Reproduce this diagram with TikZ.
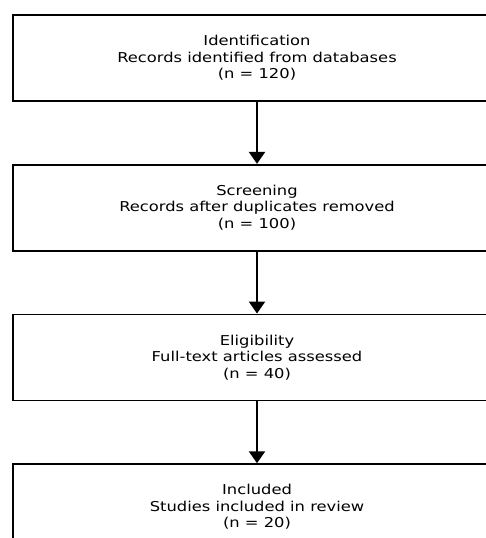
\documentclass[tikz,border=0pt]{standalone}
\usepackage{fontspec}
\setmainfont[FakeStretch=1.2]{DejaVu Sans}
\usetikzlibrary{positioning,arrows.meta}
\tikzset{
  stagebox/.style={draw,line width=1.7pt,minimum width=488pt,minimum height=86pt,
    align=center,font=\fontsize{13.6}{16.6}\selectfont,inner sep=0pt},
  flowarrow/.style={line width=2.4pt,-{Triangle[width=16pt,length=12pt]}}
}
\begin{document}
\begin{tikzpicture}[x=1pt,y=1pt]
\clip (0,0) rectangle (486,-538);
\useasboundingbox (0,0) rectangle (486,-538);
\node[stagebox] (ident) at (257,-58) {Identification\\Records identified from databases\\(n = 120)};
\node[stagebox,below=62pt of ident] (screen) {Screening\\Records after duplicates removed\\(n = 100)};
\node[stagebox,below=62pt of screen] (elig) {Eligibility\\Full-text articles assessed\\(n = 40)};
\node[stagebox,below=62pt of elig] (incl) {Included\\Studies included in review\\(n = 20)};
\draw[flowarrow] (ident) -- (screen);
\draw[flowarrow] (screen) -- (elig);
\draw[flowarrow] (elig) -- (incl);
\end{tikzpicture}
\end{document}
